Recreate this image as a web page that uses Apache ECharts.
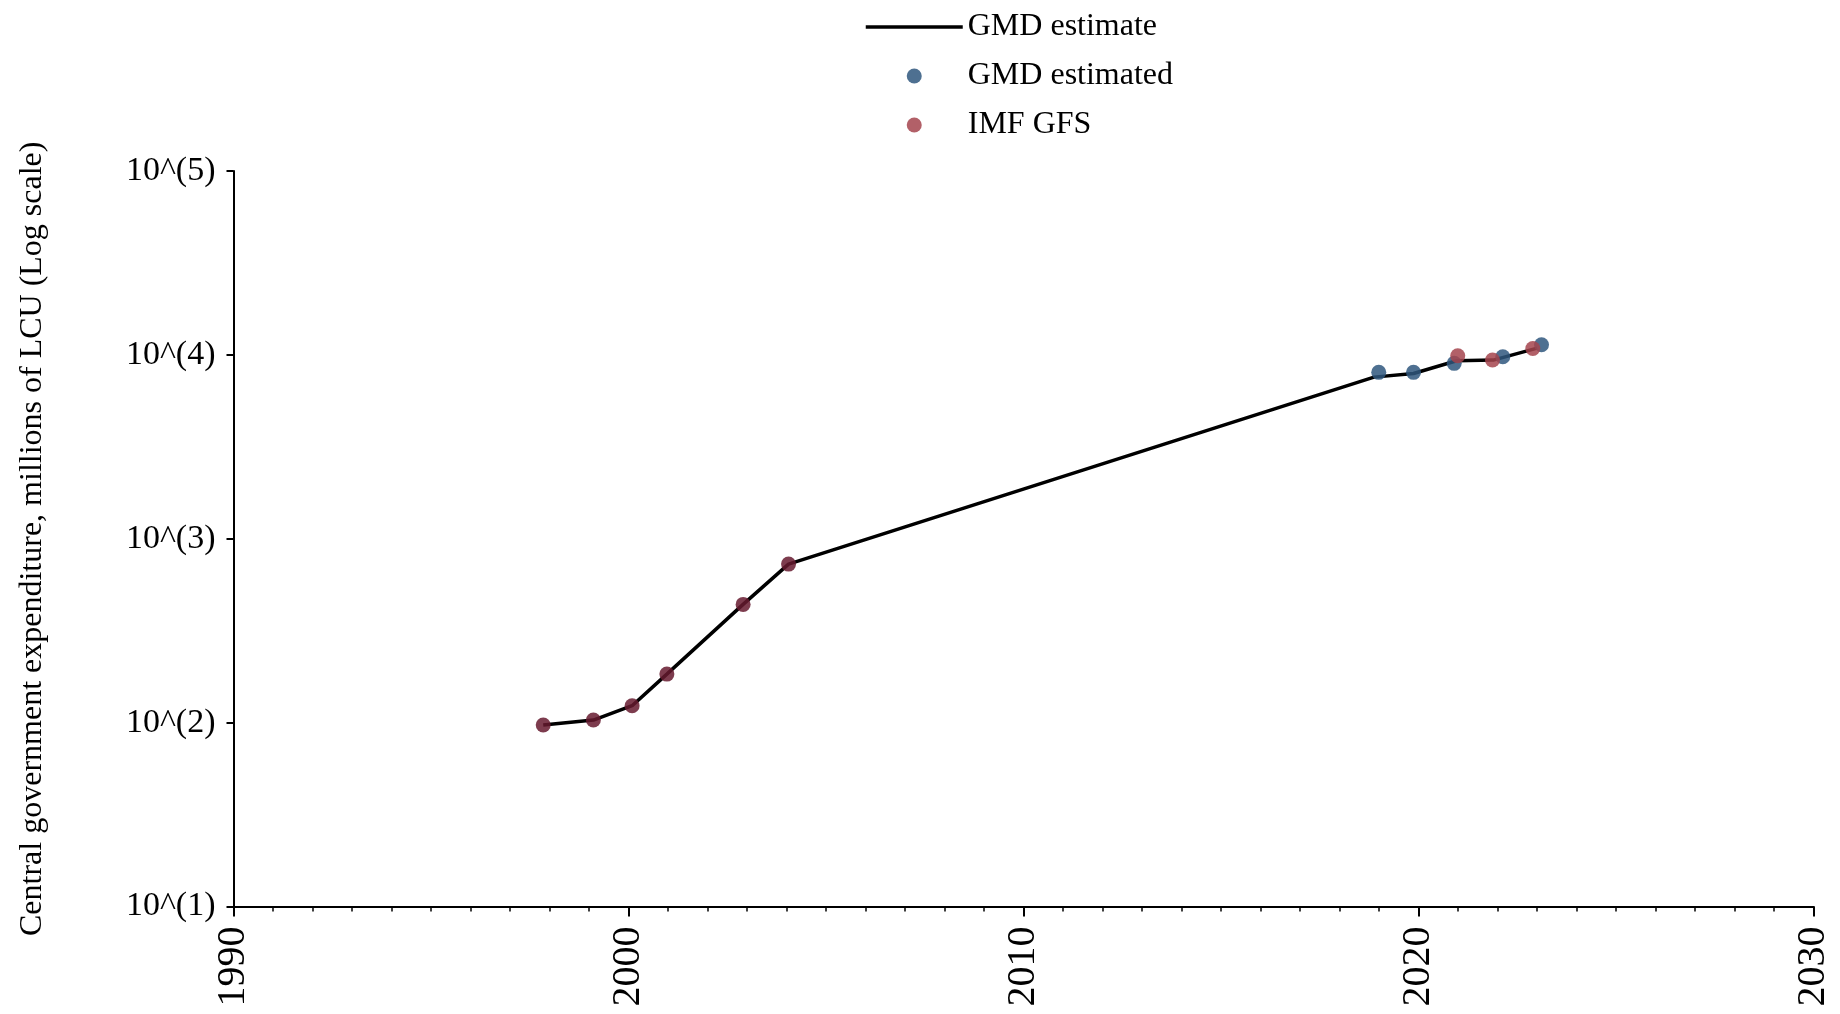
<!DOCTYPE html>
<html>
<head>
<meta charset="utf-8">
<script src="https://cdn.jsdelivr.net/npm/echarts@6/dist/echarts.min.js"></script>
<style>
html,body{margin:0;padding:0;background:#fff;}
#chart{width:1840px;height:1014px;}
</style>
</head>
<body>
<div id="chart"></div>
<script>
// GMD estimate (line)
const lineYears  = [1997.84, 1999.11, 2000.09, 2000.97, 2002.90, 2004.05, 2018.87, 2019.87, 2020.96, 2021.89, 2023.00];
const lineValues = [97.0, 103.3, 123.6, 183.6, 439.6, 727.9, 7568, 7925, 9290, 9370, 10890];
// GMD estimated (points)
const gmdYears  = [2018.99, 2019.87, 2020.90, 2022.13, 2023.11];
const gmdValues = [8035, 8035, 8995, 9770, 11350];
// IMF GFS (points)
const imfYears  = [1997.84, 1999.11, 2000.09, 2000.97, 2002.90, 2004.05, 2020.99, 2021.87, 2022.89];
const imfValues = [97.0, 103.3, 123.6, 183.6, 439.6, 727.9, 9885, 9375, 10840];
// Axes
const xTicks = [1990, 2000, 2010, 2020, 2030];
const yTickExponents = [1, 2, 3, 4, 5];
const yAxisTitle = 'Central government expenditure, millions of LCU (Log scale)';

const FONT = '"Liberation Serif", "Times New Roman", serif';
const chart = echarts.init(document.getElementById('chart'));

const option = {
  backgroundColor: '#ffffff',
  animation: false,
  textStyle: { fontFamily: FONT, color: '#000' },
  legend: {
    orient: 'vertical',
    left: 859,
    top: 6,
    itemWidth: 97,
    itemHeight: 15,
    itemGap: 17,
    textStyle: { fontFamily: FONT, fontSize: 32, color: '#000' },
    data: [
      { name: 'GMD estimate', itemStyle: { opacity: 0 }, lineStyle: { width: 3.5, color: '#000' } },
      { name: 'GMD estimated', icon: 'circle' },
      { name: 'IMF GFS', icon: 'circle' }
    ]
  },
  grid: {
    left: 233.5, right: 26.3, top: 171, bottom: 107.5,
    containLabel: false, outerBoundsMode: 'none'
  },
  xAxis: {
    type: 'value',
    min: xTicks[0],
    max: xTicks[xTicks.length - 1],
    interval: 10,
    axisLine: { show: true, onZero: false, lineStyle: { color: '#000', width: 2 } },
    axisTick: { show: true, length: 10, lineStyle: { color: '#000', width: 2 } },
    minorTick: { show: true, splitNumber: 10, length: 5, lineStyle: { color: '#000', width: 1.5 } },
    splitLine: { show: false },
    axisLabel: {
      rotate: 90, margin: 20, fontSize: 40, fontFamily: FONT, color: '#000',
      formatter: v => String(v)
    }
  },
  yAxis: {
    type: 'log',
    logBase: 10,
    min: Math.pow(10, yTickExponents[0]),
    max: Math.pow(10, yTickExponents[yTickExponents.length - 1]),
    name: yAxisTitle,
    nameLocation: 'middle',
    nameRotate: 90,
    nameGap: 185,
    nameTextStyle: { fontFamily: FONT, fontSize: 32, color: '#000' },
    axisLine: { show: true, lineStyle: { color: '#000', width: 2 } },
    axisTick: { show: true, length: 7, lineStyle: { color: '#000', width: 2 } },
    splitLine: { show: false },
    axisLabel: {
      margin: 18, fontSize: 34, fontFamily: FONT, color: '#000',
      formatter: v => '10^(' + Math.round(Math.log10(v)) + ')'
    }
  },
  series: [
    {
      name: 'GMD estimate',
      type: 'line',
      symbol: 'none',
      lineStyle: { color: '#000', width: 3.5 },
      itemStyle: { color: '#000' },
      data: lineYears.map((y, i) => [y, lineValues[i]]),
      z: 2
    },
    {
      name: 'GMD estimated',
      type: 'scatter',
      symbolSize: 15,
      itemStyle: { color: '#2f577e', opacity: 0.85 },
      data: gmdYears.map((y, i) => [y, gmdValues[i]]),
      z: 3
    },
    {
      name: 'IMF GFS',
      type: 'scatter',
      symbolSize: 15,
      itemStyle: { color: '#a4444d', opacity: 0.85 },
      data: imfYears.map((y, i) => {
        const item = { value: [y, imfValues[i]] };
        if (y < 2010) item.itemStyle = { color: '#661a2f', opacity: 0.85 };
        return item;
      }),
      z: 4
    }
  ]
};
chart.setOption(option);
</script>
</body>
</html>
